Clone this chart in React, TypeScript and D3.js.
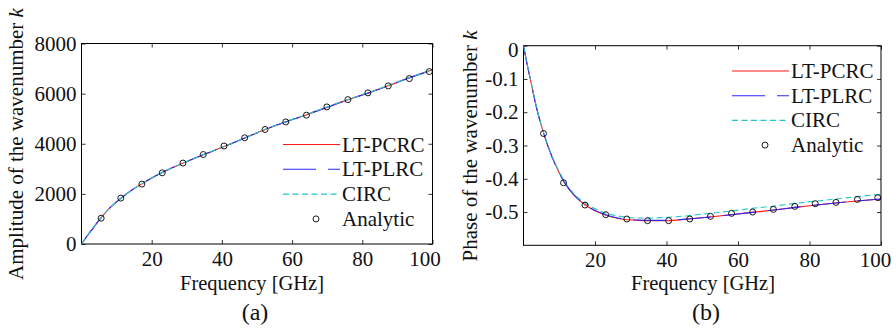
import React, { useEffect, useRef } from 'react';
import * as d3 from 'd3';

// analytic sample frequencies (GHz), shared by both panels
const analyticFreq = [5.6, 11.2, 17.2, 23.0, 28.9, 34.7, 40.6, 46.5, 52.3, 58.2, 64.1, 69.9, 75.9, 81.6, 87.4, 93.4, 99.1];

// (a) amplitude
const ampFreq = [0, 1.5, 3, 5.5, 8, 11.3, 14, 17.2, 20, 23, 26, 29, 35, 41, 46.5, 52, 58, 64, 70, 76, 82, 87.5, 93, 100];
const ampPCRC = [0, 300, 580, 1030, 1430, 1830, 2120, 2400, 2630, 2850, 3050, 3230, 3580, 3910, 4230, 4550, 4860, 5150, 5460, 5760, 6040, 6320, 6610, 6950];
const ampPLRC = [0, 300, 580, 1030, 1430, 1830, 2120, 2400, 2630, 2850, 3050, 3230, 3580, 3910, 4230, 4550, 4860, 5150, 5460, 5760, 6040, 6320, 6610, 6950];
const ampCIRC = [0, 300, 580, 1030, 1430, 1830, 2120, 2400, 2630, 2850, 3050, 3230, 3580, 3910, 4230, 4560, 4870, 5160, 5470, 5770, 6050, 6330, 6620, 6960];
const ampAnalytic = [1030, 1830, 2390, 2840, 3230, 3570, 3910, 4240, 4570, 4870, 5140, 5470, 5760, 6030, 6310, 6600, 6880];

// (b) phase
const phaseFreq = [0, 1, 2, 3.5, 5.6, 8, 11.4, 14, 17.2, 20, 23, 26, 29, 32, 35, 40, 46, 52, 58, 64, 70, 76, 82, 88, 94, 100];
const phasePCRC = [0, -0.055, -0.105, -0.18, -0.262, -0.335, -0.41, -0.448, -0.478, -0.496, -0.509, -0.518, -0.523, -0.525, -0.526, -0.526, -0.521, -0.515, -0.508, -0.501, -0.494, -0.486, -0.479, -0.472, -0.466, -0.461];
const phasePLRC = [0, -0.055, -0.105, -0.18, -0.262, -0.335, -0.41, -0.447, -0.477, -0.495, -0.508, -0.517, -0.522, -0.524, -0.525, -0.525, -0.521, -0.515, -0.508, -0.501, -0.494, -0.486, -0.479, -0.472, -0.466, -0.461];
const phaseCIRC = [0, -0.055, -0.104, -0.178, -0.26, -0.332, -0.406, -0.444, -0.473, -0.49, -0.503, -0.511, -0.516, -0.518, -0.518, -0.516, -0.511, -0.504, -0.497, -0.489, -0.482, -0.474, -0.467, -0.46, -0.453, -0.446];
const phaseAnalytic = [-0.264, -0.412, -0.479, -0.508, -0.521, -0.526, -0.526, -0.521, -0.513, -0.504, -0.5, -0.492, -0.483, -0.475, -0.471, -0.462, -0.457];

const xTicks = [20, 40, 60, 80, 100];
const ampTicks = [0, 2000, 4000, 6000, 8000];
const phaseTicks = [0, -0.1, -0.2, -0.3, -0.4, -0.5];
const legendNames = ['LT-PCRC', 'LT-PLRC', 'CIRC', 'Analytic'];

const FONT = '"Liberation Serif", "Times New Roman", serif';
const RED = '#ff1a1a', BLUE = '#2a2aff', CYAN = '#22c8c8';

function drawPanel(svg, o) {
  const x = d3.scaleLinear().domain([0, 100]).range([o.left, o.right]);
  const y = d3.scaleLinear().domain(o.yDomain).range([o.bottom, o.top]);
  const g = svg.append('g');

  const clipId = 'clip' + o.id;
  svg.append('defs').append('clipPath').attr('id', clipId)
    .append('rect').attr('x', o.left).attr('y', o.top)
    .attr('width', o.right - o.left).attr('height', o.bottom - o.top);

  const styleAxis = (a) => {
    a.attr('font-family', FONT).attr('font-size', 21);
    a.select('.domain').remove();
    a.selectAll('line').attr('stroke', '#000').attr('stroke-width', 0.8);
    a.selectAll('text').attr('fill', '#111');
  };

  g.append('g').attr('transform', `translate(0,${o.bottom})`)
    .call(d3.axisBottom(x).tickValues(xTicks).tickSize(-4).tickPadding(7).tickFormat(d3.format('d')))
    .call(styleAxis)
    .selectAll('text').attr('dx', (d) => (d === 100 ? o.lastDx : 0));
  g.append('g').attr('transform', `translate(0,${o.top})`)
    .call(d3.axisTop(x).tickValues(xTicks).tickSize(-4).tickFormat(() => ''))
    .call(styleAxis);
  g.append('g').attr('transform', `translate(${o.left},0)`)
    .call(d3.axisLeft(y).tickValues(o.yTicks).tickSize(-4).tickPadding(5).tickFormat(o.yFormat))
    .call(styleAxis)
    .selectAll('text').attr('dy', (d) => (o.id === 'b' && d === 0 ? '0.5em' : '0.32em'));
  g.append('g').attr('transform', `translate(${o.right},0)`)
    .call(d3.axisRight(y).tickValues(o.yTicks).tickSize(-4).tickFormat(() => ''))
    .call(styleAxis);

  g.append('rect').attr('x', o.left).attr('y', o.top)
    .attr('width', o.right - o.left).attr('height', o.bottom - o.top)
    .attr('fill', 'none').attr('stroke', '#000').attr('stroke-width', 1);

  const line = d3.line().curve(d3.curveMonotoneX);
  const series = [
    { vals: o.pcrc, color: RED, dash: null },
    { vals: o.plrc, color: BLUE, dash: '33,12' },
    { vals: o.circ, color: CYAN, dash: '6,3.5' },
  ];
  const lines = g.append('g').attr('clip-path', `url(#${clipId})`);
  series.forEach((s) => {
    lines.append('path')
      .attr('d', line(o.freq.map((f, i) => [x(f), y(s.vals[i])])))
      .attr('fill', 'none').attr('stroke', s.color).attr('stroke-width', 1.1)
      .attr('stroke-dasharray', s.dash);
  });
  g.append('g').selectAll('circle').data(analyticFreq).enter().append('circle')
    .attr('cx', (d) => x(d)).attr('cy', (d, i) => y(o.analytic[i])).attr('r', 3)
    .attr('fill', 'none').attr('stroke', '#000').attr('stroke-width', 0.9);

  // legend
  const lg = g.append('g');
  legendNames.forEach((name, i) => {
    const yy = o.legY + i * o.legStep;
    if (i < 3) {
      lg.append('line').attr('x1', o.legX).attr('x2', o.legX + 57).attr('y1', yy).attr('y2', yy)
        .attr('stroke', series[i].color).attr('stroke-width', 1.1)
        .attr('stroke-dasharray', series[i].dash);
    } else {
      lg.append('circle').attr('cx', o.legX + 33).attr('cy', yy).attr('r', 3)
        .attr('fill', 'none').attr('stroke', '#000').attr('stroke-width', 0.9);
    }
    lg.append('text').attr('x', o.legX + 59).attr('y', yy + 7)
      .attr('font-family', FONT).attr('font-size', 21).attr('fill', '#111').text(name);
  });

  // axis titles
  g.append('text').attr('x', o.xLabelX).attr('y', 290).attr('text-anchor', 'middle')
    .attr('font-family', FONT).attr('font-size', 20.5).attr('fill', '#111').text('Frequency [GHz]');
  g.append('text').attr('x', o.xLabelX + 3).attr('y', 320).attr('text-anchor', 'middle')
    .attr('font-family', FONT).attr('font-size', 24).attr('fill', '#111').text(o.tag);
  const yl = g.append('text')
    .attr('transform', `translate(${o.yLabelX},${o.yLabelY}) rotate(-90)`)
    .attr('text-anchor', 'middle').attr('font-family', FONT).attr('font-size', 21).attr('fill', '#111');
  yl.append('tspan').text(o.yTitle + ' ');
  yl.append('tspan').attr('font-style', 'italic').text('k');
}

export default function App() {
  const ref = useRef(null);
  useEffect(() => {
    const svg = d3.select(ref.current);
    svg.selectAll('*').remove();
    drawPanel(svg, {
      id: 'a', left: 81.5, right: 432.5, top: 43.5, bottom: 244,
      yDomain: [0, 8000], yTicks: ampTicks, yFormat: d3.format('d'), lastDx: -8,
      freq: ampFreq, pcrc: ampPCRC, plrc: ampPLRC, circ: ampCIRC, analytic: ampAnalytic,
      legX: 283, legY: 144.5, legStep: 24.8,
      xLabelX: 252, tag: '(a)', yLabelX: 23, yLabelY: 144, yTitle: 'Amplitude of the wavenumber',
    });
    drawPanel(svg, {
      id: 'b', left: 523.5, right: 881, top: 45.7, bottom: 245.3,
      yDomain: [-0.6, 0], yTicks: phaseTicks, yFormat: (d) => (d === 0 ? '0' : d3.format('.1f')(d).replace('−', '-')), lastDx: -6,
      freq: phaseFreq, pcrc: phasePCRC, plrc: phasePLRC, circ: phaseCIRC, analytic: phaseAnalytic,
      legX: 732, legY: 71, legStep: 24.7,
      xLabelX: 703, tag: '(b)', yLabelX: 477, yLabelY: 146, yTitle: 'Phase of the wavenumber',
    });
  }, []);
  return (
    <svg ref={ref} width={896} height={333}
      style={{ position: 'absolute', left: 0, top: 0, background: '#fff' }} />
  );
}
